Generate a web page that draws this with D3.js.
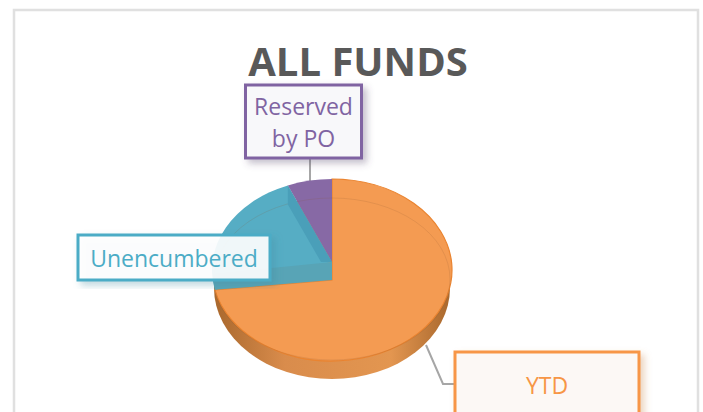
<!DOCTYPE html>
<html>
<head>
<meta charset="utf-8">
<style>
  html, body { margin: 0; padding: 0; background: #fff; overflow: hidden; }
  svg { display: block; font-family: "Open Sans", sans-serif; }
</style>
<script src="https://cdn.jsdelivr.net/npm/d3@7"></script>
</head>
<body>
<script>
var categories = ["YTD", "Unencumbered", "Reserved by PO"];
var values = [71.5, 22.5, 6];
var label_lines = [["YTD"], ["Unencumbered"], ["Reserved", "by PO"]];

var width = 703;
var height = 412;
var cx = 332, cy = 270, rx = 120, ry = 91;
var depth = 18;
var orange_apex = 280;   // the orange face meets the centre lower down
var recess_apex = 262;   // floor of the two smaller slices

var face_colors = d3.scaleOrdinal().domain(categories).range(["#f49b52", "#56adc4", "#8769a5"]);
var line_colors = d3.scaleOrdinal().domain(categories).range(["#f79646", "#4bacc6", "#8064a2"]);
var box_fills = d3.scaleOrdinal().domain(categories).range(["#fcf8f5", "#ffffff", "#f8f8fa"]);
var box_opacity = d3.scaleOrdinal().domain(categories).range([1, 0.9, 1]);
var shadow_colors = d3.scaleOrdinal().domain(categories).range(["#c8854a", "#3f8ba0", "#5a4a70"]);

var svg = d3.select("body").append("svg")
    .attr("width", width)
    .attr("height", height);

var defs = svg.append("defs");

var wall = defs.append("linearGradient").attr("id", "wall");
wall.append("stop").attr("offset", "0%").attr("stop-color", "#a9682d");
wall.append("stop").attr("offset", "30%").attr("stop-color", "#d98c4c");
wall.append("stop").attr("offset", "75%").attr("stop-color", "#e39650");
wall.append("stop").attr("offset", "100%").attr("stop-color", "#a9682d");

categories.forEach(function(c, i) {
  defs.append("filter").attr("id", "shadow" + i)
      .attr("x", "-20%").attr("y", "-20%").attr("width", "140%").attr("height", "140%")
    .append("feDropShadow")
      .attr("dx", 4).attr("dy", 4).attr("stdDeviation", 3.5)
      .attr("flood-color", shadow_colors(c)).attr("flood-opacity", 0.35);
});

// outer frame, the bottom runs off the page
svg.append("path")
    .attr("d", "M14," + height + "V10H698V" + height)
    .attr("fill", "none")
    .attr("stroke", "#e0e0e0")
    .attr("stroke-width", 2.5);

svg.append("text")
    .attr("x", 358)
    .attr("y", 76)
    .attr("text-anchor", "middle")
    .attr("font-size", 40)
    .attr("font-weight", 700)
    .attr("fill", "#595959")
    .text("ALL FUNDS");

var pie = d3.pie().sort(null).startAngle(0).endAngle(2 * Math.PI);
var slices = pie(values);

function rim(a, r_x, r_y) {
  return [cx + (r_x || rx) * Math.sin(a), cy - (r_y || ry) * Math.cos(a)];
}

function face_path(d, apex_y) {
  var p0 = rim(d.startAngle), p1 = rim(d.endAngle);
  var large = d.endAngle - d.startAngle > Math.PI ? 1 : 0;
  return "M" + cx + "," + apex_y + "L" + p0 + "A" + rx + "," + ry + " 0 " + large + " 1 " + p1 + "Z";
}

// leader lines go under the pie
var leaders = [
  [[426, 345], [443, 384], [456, 384]],
  [],
  [[310, 158], [310, 184]]
];
var leader_line = d3.line();
svg.selectAll("path.leader").data(leaders).enter()
    .append("path")
    .attr("class", "leader")
    .attr("d", function(d){ return d.length ? leader_line(d) : null })
    .attr("fill", "none")
    .attr("stroke", "#a6a6a6")
    .attr("stroke-width", 2);

// side of the disc
svg.append("ellipse")
    .attr("cx", cx)
    .attr("cy", cy + depth)
    .attr("rx", rx - 2)
    .attr("ry", ry)
    .attr("fill", "url(#wall)");

svg.selectAll("path.face").data(slices).enter()
    .append("path")
    .attr("class", "face")
    .attr("d", function(d, i){ return face_path(d, i == 0 ? orange_apex : recess_apex) })
    .attr("fill", function(d, i){ return face_colors(categories[i]) })
    .attr("stroke", function(d, i){ return i == 0 ? "#ea8430" : "none" })
    .attr("stroke-width", 1.2);

// faint bevel ring on the faces
svg.append("ellipse")
    .attr("cx", cx)
    .attr("cy", cy + 9)
    .attr("rx", rx - 2)
    .attr("ry", ry - 10)
    .attr("fill", "none")
    .attr("stroke", "#8a5a30")
    .attr("stroke-opacity", 0.16)
    .attr("stroke-width", 1);

// walls of the recess between the slices
var teal = slices[1], purple = slices[2];
var side_end = rim(purple.startAngle);
svg.append("path")
    .attr("d", d3.line()([
      side_end,
      [side_end[0], side_end[1] + depth + 1],
      [cx - 11, recess_apex],
      [cx, recess_apex]
    ]))
    .attr("fill", "#4a9fb9");

var front_end = rim(teal.startAngle);
svg.append("path")
    .attr("d", d3.line()([
      [cx, recess_apex],
      [cx, orange_apex],
      front_end,
      [front_end[0] - 2, front_end[1] - 16]
    ]))
    .attr("fill", "#58a4b6");

// label boxes
var boxes = [
  {x: 455, y: 352, w: 184, h: 90, base: [394]},
  {x: 78, y: 235, w: 192, h: 45, base: [267]},
  {x: 245.5, y: 85, w: 116, h: 73, base: [115, 147]}
];

var box = svg.selectAll("g.box").data(boxes).enter()
    .append("g")
    .attr("class", "box");

box.append("rect")
    .attr("x", function(d){ return d.x })
    .attr("y", function(d){ return d.y })
    .attr("width", function(d){ return d.w })
    .attr("height", function(d){ return d.h })
    .attr("fill", function(d, i){ return box_fills(categories[i]) })
    .attr("fill-opacity", function(d, i){ return box_opacity(categories[i]) })
    .attr("stroke", function(d, i){ return line_colors(categories[i]) })
    .attr("stroke-width", 3)
    .attr("filter", function(d, i){ return "url(#shadow" + i + ")" });

box.each(function(d, i) {
  var g = d3.select(this);
  label_lines[i].forEach(function(line, j) {
    g.append("text")
      .attr("x", d.x + d.w / 2)
      .attr("y", d.base[j])
      .attr("text-anchor", "middle")
      .attr("font-size", 23)
      .attr("fill", line_colors(categories[i]))
      .text(line);
  });
});
</script>
</body>
</html>
